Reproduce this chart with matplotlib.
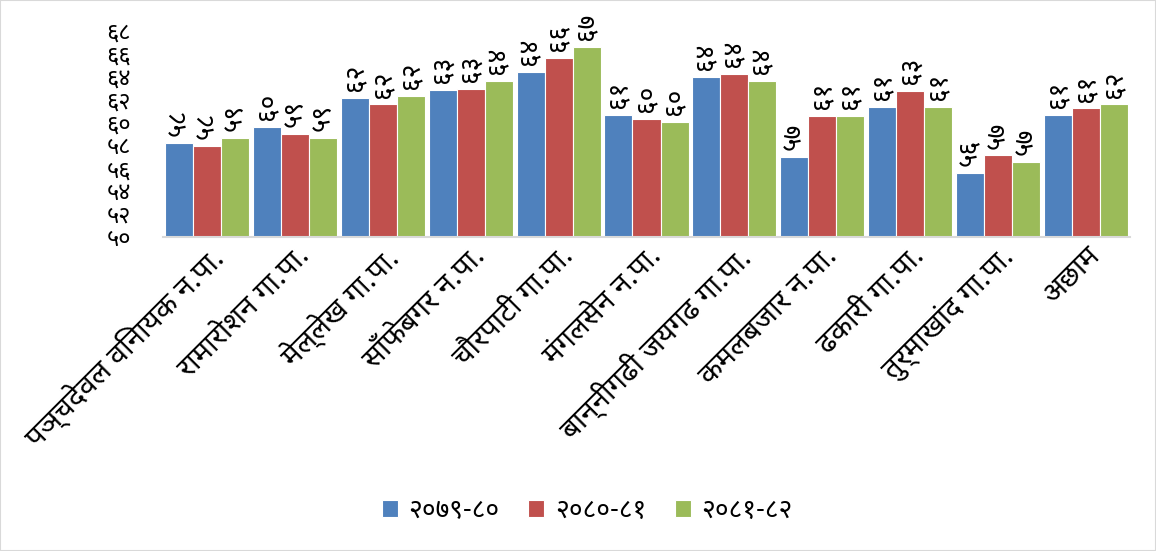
import matplotlib
matplotlib.use("Agg")
import matplotlib.pyplot as plt
import matplotlib.transforms as mtransforms
import numpy as np
from matplotlib import font_manager as fm
from matplotlib.ft2font import FT2Font

categories = [
    "पञ्चदेवल विनायक न.पा.",
    "रामारोशन गा.पा.",
    "मेल्लेख गा.पा.",
    "साँफेबगर न.पा.",
    "चौरपाटी गा.पा.",
    "मंगलसेन न.पा.",
    "बान्नीगढी जयगढ गा.पा.",
    "कमलबजार न.पा.",
    "ढकारी गा.पा.",
    "तुर्माखांद गा.पा.",
    "अछाम",
]
series_names = ["२०७९-८०", "२०८०-८१", "२०८१-८२"]
s2079 = [58.2, 59.6, 62.1, 62.8, 64.4, 60.6, 63.95, 57.0, 61.3, 55.6, 60.6]
s2080 = [57.9, 59.0, 61.55, 62.9, 65.6, 60.3, 64.2, 60.55, 62.7, 57.1, 61.2]
s2081 = [58.6, 58.6, 62.3, 63.6, 66.6, 60.0, 63.6, 60.55, 61.3, 56.55, 61.55]
y_ticks = [50, 52, 54, 56, 58, 60, 62, 64, 66, 68]
colors = ["#4F81BD", "#C0504D", "#9BBB59"]

# find a Devanagari-capable font
dev_fonts = set()
for f in fm.fontManager.ttflist:
    try:
        if 0x0915 in FT2Font(f.fname).get_charmap():
            dev_fonts.add(f.name)
    except Exception:
        pass
pref = ["Noto Sans Devanagari", "Hind", "Mukta", "Lohit Devanagari", "FreeSans"]
chosen = next((p for p in pref if p in dev_fonts), sorted(dev_fonts)[0] if dev_fonts else None)
fam = ([chosen] if chosen else []) + ["DejaVu Sans"]
plt.rcParams["font.family"] = fam

DEV = str.maketrans("0123456789", "०१२३४५६७८९")
def dev(n):
    return str(n).translate(DEV)

fig = plt.figure(figsize=(11.56, 5.51), dpi=100)
ax = fig.add_axes([0.141, 0.570, 0.8365, 0.3747])

x = np.arange(len(categories))
w = 0.319
data = [s2079, s2080, s2081]
for i, (vals, c, name) in enumerate(zip(data, colors, series_names)):
    ax.bar(x + (i - 1) * w, vals, width=w, color=c, edgecolor="white",
           linewidth=0.8, label=name)
    for xi, v in zip(x + (i - 1) * w, vals):
        ax.annotate(dev(f"{v:.0f}"), (xi, v), xytext=(0, 5), textcoords="offset points",
                    rotation=90, ha="center", va="bottom", fontsize=19)

ax.set_xlim(-0.5, len(categories) - 0.5)
ax.set_ylim(50, 68)
ax.set_yticks(y_ticks)
ax.set_yticklabels([dev(t) for t in y_ticks], fontsize=17)
ax.tick_params(axis="y", pad=23)
ax.set_xticks(x)
ax.set_xticklabels(categories, rotation=45, ha="right", va="top",
                   rotation_mode="anchor", fontsize=21)
offset = mtransforms.ScaledTranslation(0.26, -0.14, fig.dpi_scale_trans)
for lab in ax.get_xticklabels():
    lab.set_transform(lab.get_transform() + offset)
ax.tick_params(length=0)
for s in ["top", "right", "left"]:
    ax.spines[s].set_visible(False)
ax.spines["bottom"].set_color("#d9d9d9")
ax.spines["bottom"].set_linewidth(1.5)

fig.legend(loc="center", bbox_to_anchor=(0.508, 0.073), ncol=3, frameon=False,
           fontsize=19, handlelength=0.6, handleheight=0.6, handletextpad=0.4,
           columnspacing=1.1)

fig.patches.append(plt.Rectangle((0, 0), 1, 1, transform=fig.transFigure,
                                 fill=False, edgecolor="#d9d9d9", linewidth=1.5))
fig.savefig("out.png", dpi=100)
